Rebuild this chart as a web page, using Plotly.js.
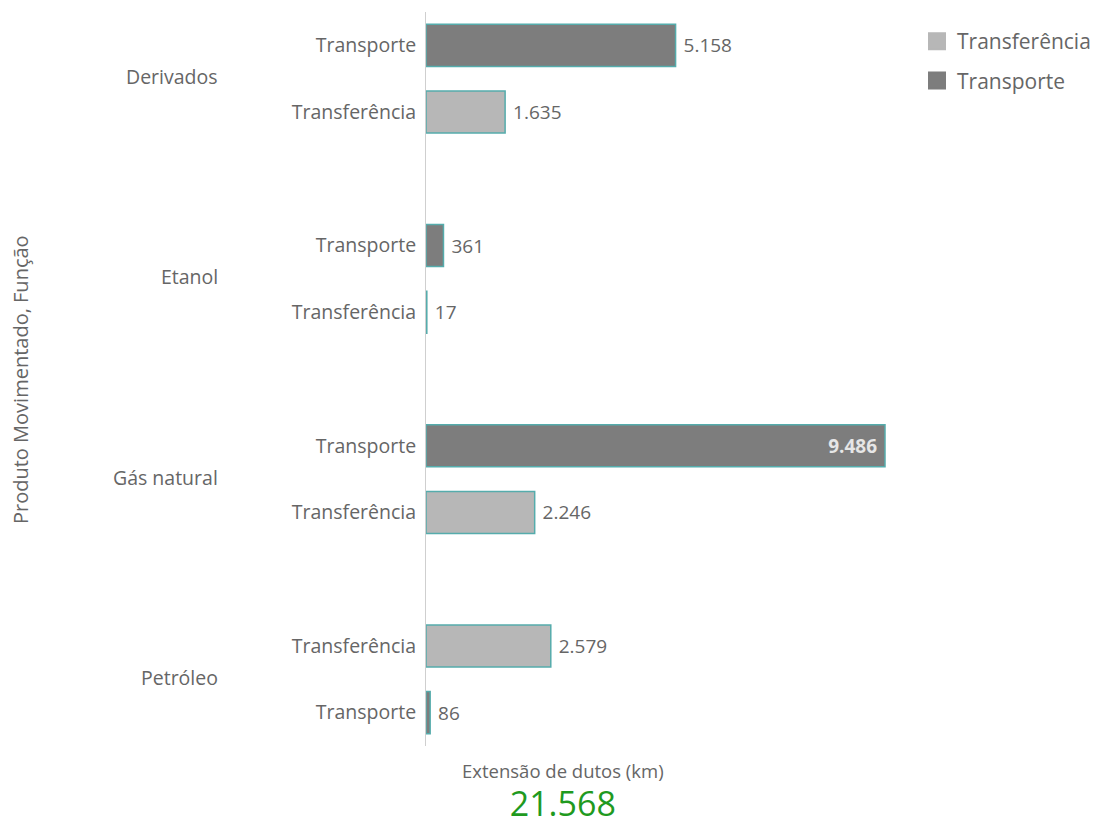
<!DOCTYPE html>
<html>
<head>
<meta charset="utf-8">
<script src="https://cdn.plot.ly/plotly-3.0.1.min.js"></script>
<style>html,body{margin:0;padding:0;background:#fff;}#chart{width:1098px;height:823px;}</style>
</head>
<body>
<div id="chart"></div>
<script>
// Data
const products = ['Derivados','Derivados','Etanol','Etanol','Gás natural','Gás natural','Petróleo','Petróleo'];
const functions = ['Transporte','Transferência','Transporte','Transferência','Transporte','Transferência','Transferência','Transporte'];
const values = [5158, 1635, 361, 17, 9486, 2246, 2579, 86];
const groups = ['Derivados','Etanol','Gás natural','Petróleo'];
const seriesNames = ['Transferência','Transporte'];
const seriesColors = {'Transferência':'#b7b7b7','Transporte':'#7d7d7d'};
const xTitle = 'Extensão de dutos (km)';
const yTitle = 'Produto Movimentado, Função';

const keys = products.map((p,i)=>p+'|'+functions[i]);
// category order with spacer slots between product groups
const catArray = [];
groups.forEach((g,gi)=>{
  if(gi>0) catArray.push('__gap'+gi);
  keys.forEach((k,i)=>{ if(products[i]===g) catArray.push(k); });
});
const maxVal = Math.max(...values);
const total = values.reduce((a,b)=>a+b,0);
const fmt = n => String(n).replace(/\B(?=(\d{3})+(?!\d))/g,'.');

const font = 'Open Sans, sans-serif';
const gray = '#666666';
const NB = '\u00a0';

// geometry (pixels of the 1098x823 page)
const W = 1098, H = 823, ML = 426, MR = 2, MT = 12, MB = 77;
const PW = W - ML - MR, PH = H - MT - MB;
const px2x = p => (p - ML) / PW;
const py2y = p => (H - MB - p) / PH;
const xMax = maxVal * PW / 459;   // largest bar spans ~459 px

const traces = [];
seriesNames.forEach(s=>{
  const idx = functions.map((f,i)=>f===s?i:-1).filter(i=>i>=0);
  traces.push({
    type:'bar', orientation:'h', name:s, showlegend:false,
    y: idx.map(i=>keys[i]), x: idx.map(i=>values[i]),
    marker:{color:seriesColors[s], line:{color:'#55acac', width:1.5}},
    texttemplate: idx.map(i=>values[i]===maxVal ? '%{x:,d}'+NB : NB+'%{x:,d}'),
    textposition: idx.map(i=>values[i]===maxVal?'inside':'outside'),
    insidetextanchor:'end',
    outsidetextfont:{family:font,size:19,color:gray},
    insidetextfont:{family:font,size:19,color:'#e6e6e6',weight:'bold'},
    cliponaxis:false, hoverinfo:'skip'
  });
});
// legend entries
seriesNames.forEach(s=>{
  traces.push({type:'scatter',mode:'markers',x:[null],y:[null],name:s,showlegend:true,legendgroup:s,
    marker:{symbol:'square',size:20,color:seriesColors[s],line:{color:seriesColors[s],width:2}},hoverinfo:'skip'});
});

const annotations = [];
groups.forEach(g=>{
  const pos = keys.map((k,i)=>products[i]===g?catArray.indexOf(k):-1).filter(v=>v>=0);
  const mid = pos.reduce((a,b)=>a+b,0)/pos.length;
  annotations.push({text:g, xref:'paper', x:px2x(220), xanchor:'right', yref:'y', y:mid, yanchor:'middle',
    yshift:2, showarrow:false, font:{family:font,size:19.5,color:gray}});
});
annotations.push({text:yTitle, xref:'paper', x:px2x(20), xanchor:'center', yref:'paper', y:py2y(380), yanchor:'middle',
  textangle:-90, showarrow:false, font:{family:font,size:20,color:gray}});
// x-axis title with the KPI total beneath it (one text block)
annotations.push({
  text: '<span style="font-size:18.5px">'+xTitle+'</span><br><span style="font-size:34px;color:#1f9a1f">'+fmt(total)+'</span>',
  xref:'paper', x:px2x(563), xanchor:'center', yref:'paper', y:py2y(756), yanchor:'top', align:'center',
  showarrow:false, font:{family:font,size:29.5,color:gray}});

const layout = {
  width:W, height:H,
  margin:{l:ML, r:MR, t:MT, b:MB},
  paper_bgcolor:'#fff', plot_bgcolor:'#fff',
  separators:',.',
  barmode:'overlay', bargap:0.37,
  showlegend:true,
  legend:{x:px2x(917), y:py2y(21), xanchor:'left', yanchor:'top', traceorder:'grouped', tracegroupgap:9,
    font:{family:font,size:21,color:gray}, itemsizing:'trace', bgcolor:'rgba(0,0,0,0)'},
  xaxis:{range:[0,xMax], showgrid:false, zeroline:false, showticklabels:false, showline:false, fixedrange:true},
  yaxis:{type:'category', categoryorder:'array', categoryarray:catArray, range:[catArray.length-0.5,-0.5], autorange:false,
    tickvals:keys, ticktext:functions, ticks:'', ticklabelstandoff:5,
    tickfont:{family:font,size:19.5,color:gray}, showgrid:false, zeroline:false,
    showline:true, linecolor:'#cfcfcf', linewidth:1, fixedrange:true},
  annotations:annotations,
  font:{family:font,color:gray}
};
Plotly.newPlot('chart', traces, layout, {displayModeBar:false, staticPlot:true});
</script>
</body>
</html>
